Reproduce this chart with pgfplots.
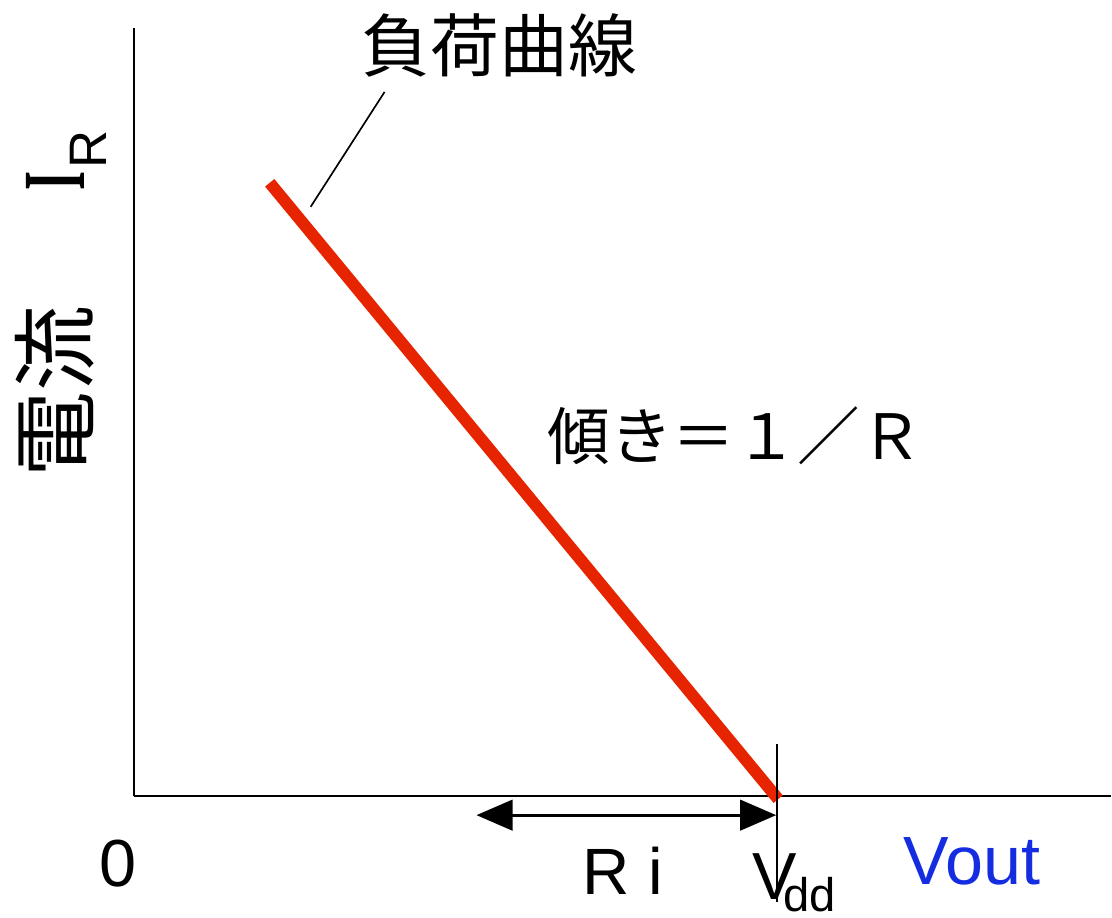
\documentclass[border=0pt]{standalone}
\usepackage{pgfplots}
\pgfplotsset{compat=1.18}
\usetikzlibrary{arrows.meta}
\usepackage{fontspec}
\usepackage{graphicx}
\setmainfont{Liberation Sans}
\newfontfamily\cjk{Noto Sans CJK JP}
\newfontfamily\serifI{Liberation Serif}
\definecolor{loadred}{RGB}{230,36,0}
\definecolor{voutblue}{RGB}{20,45,225}

\begin{document}
\begin{tikzpicture}
\begin{axis}[
  scale only axis,
  width=352.08pt, height=276.84pt,
  xmin=0, xmax=978, ymin=0, ymax=769,
  axis lines=left,
  axis line style={-, line width=0.85pt},
  xtick=\empty, ytick=\empty,
  clip=false,
]
% bounding box of the whole picture
\path (axis cs:-134,-121) rectangle (axis cs:978,797);

% load line
\addplot[loadred, line width=4.3pt, line cap=butt] coordinates {(136,614) (645,-3)};

% leader line to label
\addplot[black, line width=0.6pt] coordinates {(251,705) (177,590)};

% Vdd vertical marker
\addplot[black, line width=0.6pt] coordinates {(644,52) (644,-106)};

% Ri double arrow
\addplot[black, line width=1pt, {Triangle[length=13pt,width=11pt]}-{Triangle[length=13pt,width=11pt]}] coordinates {(343,-19) (643,-19)};

% texts
\node[inner sep=0, font=\cjk\fontsize{24.8}{30}\selectfont] at (axis cs:366,752) {負荷曲線};
\node[inner sep=0, font=\cjk\fontsize{22.5}{26}\selectfont] at (axis cs:602,361) {傾き＝１／Ｒ};
\node[inner sep=0, rotate=90, font=\cjk\fontsize{31}{36}\selectfont] at (axis cs:-79,405) {電流};
\node[inner sep=0, rotate=90, anchor=base west] at (axis cs:-49,606)
  {{\serifI\bfseries\fontsize{32}{36}\selectfont\scalebox{0.55}[1]{I}}\kern1pt\raisebox{-7.9pt}{\fontsize{19}{22}\selectfont R}};

\node[inner sep=0, anchor=base west, font=\fontsize{24}{28}\selectfont] at (axis cs:-35,-90) {0};
\node[inner sep=0, anchor=base west, font=\fontsize{23.6}{28}\selectfont] at (axis cs:449,-98) {R i};
\node[inner sep=0, anchor=base west, font=\fontsize{24}{28}\selectfont] at (axis cs:619,-103)
  {V\kern-5pt\raisebox{-4.4pt}{\fontsize{17}{20}\selectfont dd}};
\node[inner sep=0, anchor=base west, text=voutblue, font=\fontsize{24.6}{28}\selectfont] at (axis cs:770,-88) {Vout};
\end{axis}
\end{tikzpicture}
\end{document}
